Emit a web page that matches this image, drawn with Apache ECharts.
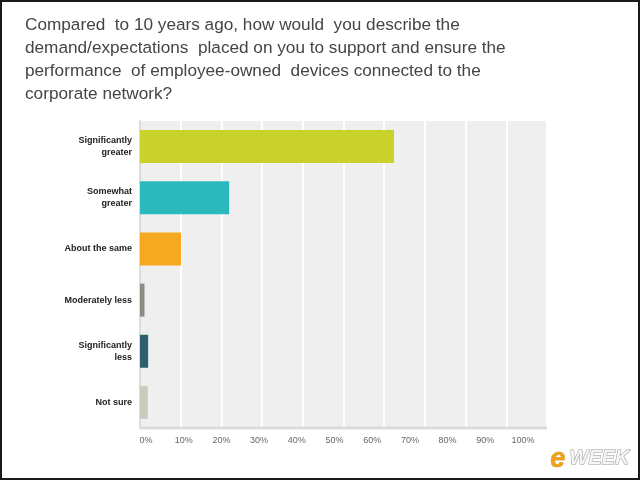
<!DOCTYPE html>
<html><head><meta charset="utf-8">
<script src="https://cdn.jsdelivr.net/npm/echarts@6/dist/echarts.min.js"></script>
<style>html,body{margin:0;padding:0;background:#fff}#c{width:640px;height:480px}</style>
</head><body><div id="c"></div>
<script>
const titleLines = [
  "Compared  to 10 years ago, how would  you describe the",
  "demand/expectations  placed on you to support and ensure the",
  "performance  of employee-owned  devices connected to the",
  "corporate network?"
];
const categories = ["Significantly\ngreater","Somewhat\ngreater","About the same","Moderately less","Significantly\nless","Not sure"];
const values = [62.4, 21.9, 10.1, 1.1, 2.0, 1.9];
const barColors = ["#c9d22a","#2bb9bd","#f6a821","#8b8d82","#2c6070","#c9cbbd"];
const xTicks = [0,10,20,30,40,50,60,70,80,90,100];

const chart = echarts.init(document.getElementById('c'), null, {renderer:'canvas'});
chart.setOption({
  animation:false,
  backgroundColor:'#fff',
  title:{
    text: titleLines.join('\n'),
    left: 20, top: 9,
    textStyle:{fontFamily:'Arial, Liberation Sans', fontSize:17.2, fontWeight:'normal', color:'#454545', lineHeight:23}
  },
  grid:[
    {left:140, top:121, width:407, height:307, containLabel:false, show:true, backgroundColor:'#efefef', borderWidth:0},
    {left:146, top:121, width:377, height:307, containLabel:false, show:false}
  ],
  xAxis:[{
    type:'value', min:0, max:100, interval:10, gridIndex:0,
    axisLine:{show:false},
    axisTick:{show:false},
    splitLine:{show:true, lineStyle:{color:'#ffffff', width:2}},
    axisLabel:{show:false}
  },{
    type:'value', min:xTicks[0], max:xTicks[xTicks.length-1], interval:10, gridIndex:1,
    axisLine:{show:false}, axisTick:{show:false}, splitLine:{show:false},
    axisLabel:{formatter: v => v + '%', color:'#666', fontSize:9, fontFamily:'Arial, Liberation Sans', margin:8}
  }],
  yAxis:[{
    type:'category', data:categories, inverse:true, gridIndex:0,
    axisLine:{show:true, lineStyle:{color:'#dcdcdc', width:2}},
    axisTick:{show:false},
    axisLabel:{color:'#222', fontSize:9, fontWeight:'bold', fontFamily:'Arial, Liberation Sans', margin:8, lineHeight:12}
  },{
    type:'category', data:categories, gridIndex:1, show:false
  }],
  series:[{
    type:'bar', barWidth:33, xAxisIndex:0, yAxisIndex:0,
    data: values.map((v,i)=>({value:v, itemStyle:{color:barColors[i]}}))
  }],
  graphic:[
    {type:'line', shape:{x1:140,y1:428,x2:547,y2:428}, style:{stroke:'#dcdcdc', lineWidth:3}, z:10},
    {type:'rect', shape:{x:1,y:1,width:638,height:478}, style:{fill:null, stroke:'#1a1a1a', lineWidth:2}, z:100},
    {type:'text', left:550, top:446, style:{text:'e', fontFamily:'Arial, Liberation Sans', fontStyle:'italic', fontWeight:'bold', fontSize:27, fill:'#f0a419', stroke:'#b06a00', lineWidth:0.5}, z:50},
    {type:'text', left:569, top:448, style:{text:'WEEK', fontFamily:'Arial, Liberation Sans', fontStyle:'italic', fontWeight:'bold', fontSize:20, fill:'#f4f4f4', stroke:'#9a9a9a', lineWidth:1, shadowColor:'rgba(0,0,0,0.4)', shadowBlur:3, shadowOffsetX:1, shadowOffsetY:1}, z:50}
  ]
});
</script></body></html>
